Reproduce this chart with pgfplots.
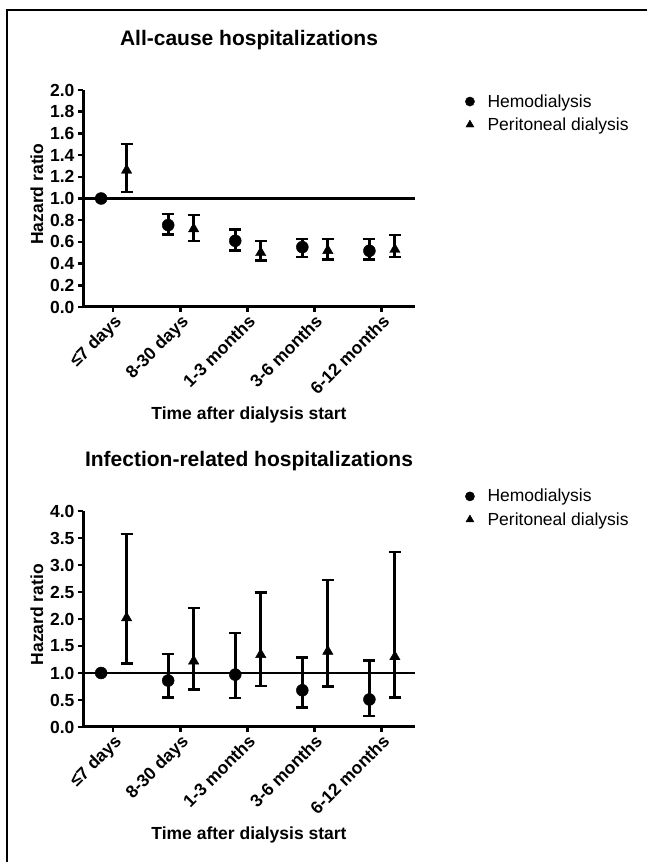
\documentclass[border=0pt]{standalone}
\usepackage{fontspec}
\setmainfont{Liberation Sans}
\usepackage{pgfplots}
\usepackage{pgfplotstable}
\pgfplotsset{compat=1.18}

% x = category index + offset, y = hazard ratio, hi/lo = 95% CI
\pgfplotstableread{
x     y     hi    lo
-0.18 1.000 1.000 1.000
0.82  0.755 0.856 0.670
1.82  0.610 0.715 0.520
2.82  0.552 0.626 0.460
3.82  0.518 0.626 0.440
}\allhd
\pgfplotstableread{
x     y     hi    lo
0.20  1.260 1.500 1.060
1.20  0.720 0.847 0.610
2.20  0.500 0.610 0.430
3.20  0.520 0.625 0.440
4.20  0.530 0.665 0.460
}\allpd
\pgfplotstableread{
x     y     hi    lo
-0.18 1.000 1.000 1.000
0.82  0.860 1.350 0.550
1.82  0.970 1.740 0.540
2.82  0.680 1.290 0.360
3.82  0.510 1.230 0.200
}\infhd
\pgfplotstableread{
x     y     hi    lo
0.20  2.020 3.570 1.180
1.20  1.220 2.200 0.690
2.20  1.340 2.490 0.760
3.20  1.400 2.720 0.750
4.20  1.300 3.240 0.550
}\infpd

\newcommand{\bigf}{\fontsize{17.5}{20}\selectfont}
\newcommand{\titf}{\fontsize{21}{24}\selectfont}

\pgfplotsset{
  hrstyle/.style={
    scale only axis, width=332pt,
    axis x line*=bottom, axis y line*=left,
    axis line style={line width=3pt, black},
    xmin=-0.45, xmax=4.5, ymin=0,
    xtick={0,1,2,3,4},
    xticklabels={≤7 days, 8-30 days, 1-3 months, 3-6 months, 6-12 months},
    tick align=outside, major tick length=5pt,
    tick style={line width=2.5pt, black},
    /pgf/number format/assume math mode=true,
    /pgf/number format/.cd, fixed, fixed zerofill, precision=1, /pgfplots/.cd,
    tick label style={font=\bigf\bfseries},
    x tick label style={rotate=45, anchor=north east, inner sep=1pt},
    xlabel={Time after dialysis start},
    xlabel style={at={(axis description cs:0.5,0)}, anchor=center, yshift=-108pt, font=\bigf\bfseries},
    ylabel={Hazard ratio},
    ylabel style={at={(axis description cs:-0.139,0.52)}, anchor=center, font=\bigf\bfseries},
    title style={font=\titf\bfseries, anchor=base, at={(axis description cs:0.5,1)}, yshift=38.5pt},
    legend style={draw=none, fill=none, font=\bigf, anchor=north west,
      row sep=7pt, inner sep=0pt, nodes={inner sep=1pt},
      /tikz/every odd column/.append style={column sep=12pt}},
    legend cell align=left,
  },
  ci/.style={
    only marks, black, mark size=6pt,
    legend image code/.code={\draw[##1, mark size=4.6pt] plot coordinates {(0pt,0pt)};},
    error bars/.cd, y dir=both, y explicit,
    error bar style={line width=2.8pt, black},
    error mark options={rotate=90, line width=2.5pt, mark size=6pt, black},
    /pgfplots/.cd,
  },
}

\begin{document}
\begin{tikzpicture}[x=1pt,y=1pt]
\useasboundingbox (0,0) rectangle (647,862);
\draw[line width=1.5pt] (7,-5) -- (7,852) -- (660,852);
\coordinate (topax) at (83,555);
\coordinate (botax) at (83,135);

\begin{axis}[hrstyle, at={(topax)}, anchor=south west,
  height=217pt, ymax=2, ytick distance=0.2,
  title={All-cause hospitalizations},
  legend style={at={(axis description cs:1.151,0.985)}}]
\addplot[line width=2.5pt, black, forget plot] coordinates {(-0.45,1) (4.5,1)};
\addplot[ci, mark=*] table[x=x, y=y,
  y error plus expr=\thisrow{hi}-\thisrow{y},
  y error minus expr=\thisrow{y}-\thisrow{lo}] {\allhd};
\addlegendentry{Hemodialysis}
\addplot[ci, mark=triangle*] table[x=x, y=y,
  y error plus expr=\thisrow{hi}-\thisrow{y},
  y error minus expr=\thisrow{y}-\thisrow{lo}] {\allpd};
\addlegendentry{Peritoneal dialysis}
\end{axis}

\begin{axis}[hrstyle, at={(botax)}, anchor=south west,
  height=216pt, ymax=4, ytick distance=0.5,
  title={Infection-related hospitalizations},
  legend style={at={(axis description cs:1.151,1.106)}}]
\addplot[line width=2.5pt, black, forget plot] coordinates {(-0.45,1) (4.5,1)};
\addplot[ci, mark=*] table[x=x, y=y,
  y error plus expr=\thisrow{hi}-\thisrow{y},
  y error minus expr=\thisrow{y}-\thisrow{lo}] {\infhd};
\addlegendentry{Hemodialysis}
\addplot[ci, mark=triangle*] table[x=x, y=y,
  y error plus expr=\thisrow{hi}-\thisrow{y},
  y error minus expr=\thisrow{y}-\thisrow{lo}] {\infpd};
\addlegendentry{Peritoneal dialysis}
\end{axis}
\end{tikzpicture}
\end{document}
